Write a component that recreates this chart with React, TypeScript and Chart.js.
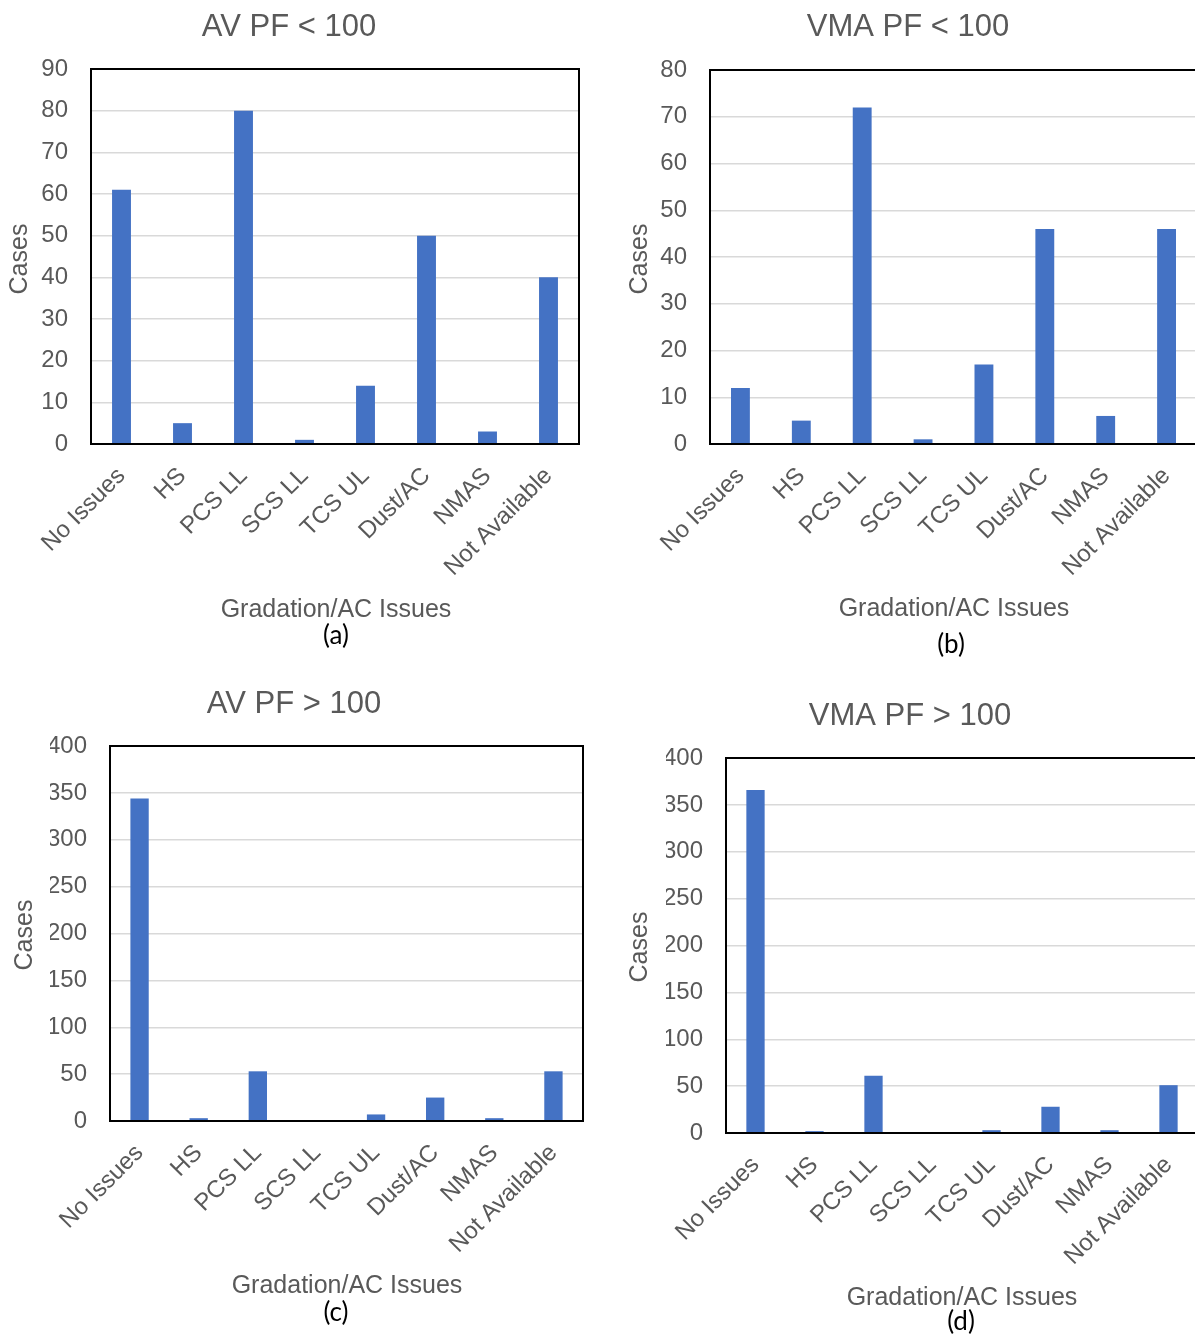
import React, { useEffect, useRef } from 'react';
import { Chart, registerables } from 'chart.js';

Chart.register(...registerables);

// ---------- data ----------
const categories = ['No Issues', 'HS', 'PCS LL', 'SCS LL', 'TCS UL', 'Dust/AC', 'NMAS', 'Not Available'];
const avPfBelow100 = [61, 5, 80, 1, 14, 50, 3, 40];
const vmaPfBelow100 = [12, 5, 72, 1, 17, 46, 6, 46];
const avPfAbove100 = [344, 3, 53, 0, 7, 25, 3, 53];
const vmaPfAbove100 = [366, 2, 61, 0, 3, 28, 3, 51];

const panelTitles = ['AV PF < 100', 'VMA PF < 100', 'AV PF > 100', 'VMA PF > 100'];
const panelCaptions = ['(a)', '(b)', '(c)', '(d)'];
const yMaxes = [90, 80, 400, 400];
const ySteps = [10, 10, 50, 50];
const yAxisTitle = 'Cases';
const xAxisTitle = 'Gradation/AC Issues';

// ---------- styling / layout ----------
const PAGE_W = 1195;
const PAGE_H = 1338;
const CANVAS_W = 1215;
const BAR = '#4472C4';
const TXT = '#595959';
const GRID = '#D9D9D9';
const FONT = '"Liberation Sans", Arial, sans-serif';
const CAP_FONT = 'Lato, "Open Sans", sans-serif';

type Box = { L: number; T: number; R: number; B: number };
type Pt = [number, number];
type Layout = { box: Box; title: Pt; yTitle: Pt; xTitle: Pt; caption: Pt };

const layouts: Layout[] = [
  { box: { L: 91, T: 69, R: 579, B: 444 }, title: [289, 27], yTitle: [20, 259], xTitle: [336, 610], caption: [336, 636] },
  { box: { L: 710, T: 70, R: 1197, B: 444 }, title: [908, 27], yTitle: [640, 259], xTitle: [954, 609], caption: [951, 645] },
  { box: { L: 110, T: 746, R: 583, B: 1121 }, title: [294, 704], yTitle: [25, 935], xTitle: [347, 1286], caption: [336, 1313] },
  { box: { L: 726, T: 758, R: 1198, B: 1133 }, title: [910, 716], yTitle: [640, 947], xTitle: [962, 1298], caption: [961, 1322] },
];

const seriesList = [avPfBelow100, vmaPfBelow100, avPfAbove100, vmaPfAbove100];

const Y_W = 60;
const X_H = 150;

function textPlugin(idx: number) {
  const lay = layouts[idx];
  return {
    id: 'panelText' + idx,
    afterDraw(chart: any) {
      const ctx: CanvasRenderingContext2D = chart.ctx;
      const ca = chart.chartArea;
      ctx.save();
      // plot border
      ctx.strokeStyle = '#000000';
      ctx.lineWidth = 2;
      ctx.strokeRect(ca.left, ca.top, ca.right - ca.left, ca.bottom - ca.top);
      // title
      ctx.fillStyle = TXT;
      ctx.textAlign = 'center';
      ctx.textBaseline = 'middle';
      ctx.font = `31px ${FONT}`;
      ctx.fillText(panelTitles[idx], lay.title[0], lay.title[1]);
      // x axis title
      ctx.font = `25px ${FONT}`;
      ctx.fillText(xAxisTitle, lay.xTitle[0], lay.xTitle[1]);
      // y axis title
      ctx.save();
      ctx.font = `25px ${FONT}`;
      ctx.translate(lay.yTitle[0], lay.yTitle[1]);
      ctx.rotate(-Math.PI / 2);
      ctx.fillText(yAxisTitle, 0, 0);
      ctx.restore();
      // caption
      ctx.fillStyle = '#000000';
      ctx.font = `26px ${CAP_FONT}`;
      ctx.fillText(panelCaptions[idx], lay.caption[0], lay.caption[1]);
      ctx.restore();
    },
  };
}

function Panel({ idx }: { idx: number }) {
  const ref = useRef<HTMLCanvasElement | null>(null);
  useEffect(() => {
    const canvas = ref.current;
    if (!canvas) return;
    const lay = layouts[idx];
    const chart = new Chart(canvas, {
      type: 'bar',
      data: {
        labels: categories,
        datasets: [
          {
            data: seriesList[idx],
            backgroundColor: BAR,
            borderWidth: 0,
            barPercentage: 0.31,
            categoryPercentage: 1,
          },
        ],
      },
      options: {
        responsive: false,
        animation: false,
        devicePixelRatio: 1,
        layout: {
          padding: {
            left: lay.box.L - Y_W,
            right: CANVAS_W - lay.box.R,
            top: lay.box.T,
            bottom: PAGE_H - lay.box.B - X_H,
          },
        },
        plugins: {
          legend: { display: false },
          tooltip: { enabled: false },
          title: { display: false },
        },
        scales: {
          x: {
            grid: { display: false, drawTicks: false },
            border: { display: false },
            ticks: {
              autoSkip: false,
              minRotation: 45,
              maxRotation: 45,
              padding: 18,
              color: TXT,
              font: { family: FONT, size: 24 },
            },
            afterFit: (s: any) => {
              s.height = X_H;
            },
          },
          y: {
            min: 0,
            max: yMaxes[idx],
            grid: { color: GRID, lineWidth: 1.5, drawTicks: false },
            border: { display: false },
            ticks: {
              stepSize: ySteps[idx],
              padding: 23,
              color: TXT,
              font: { family: FONT, size: 24 },
            },
            afterFit: (s: any) => {
              s.width = Y_W;
            },
          },
        },
      } as any,
      plugins: [textPlugin(idx)],
    });
    return () => chart.destroy();
  }, [idx]);
  return (
    <canvas
      ref={ref}
      width={CANVAS_W}
      height={PAGE_H}
      style={{ position: 'absolute', left: 0, top: 0, width: CANVAS_W, height: PAGE_H }}
    />
  );
}

export default function App() {
  return (
    <div
      style={{
        position: 'absolute',
        left: 0,
        top: 0,
        width: PAGE_W,
        height: PAGE_H,
        overflow: 'hidden',
        background: '#ffffff',
      }}
    >
      {[0, 1, 2, 3].map((i) => (
        <Panel key={i} idx={i} />
      ))}
    </div>
  );
}
